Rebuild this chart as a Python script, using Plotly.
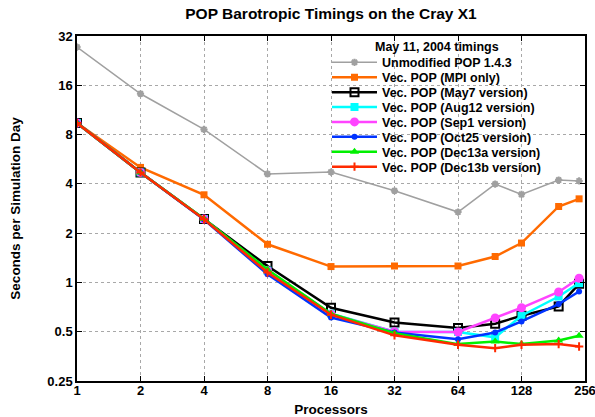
import plotly.graph_objects as go

procs = [1, 2, 4, 8, 16, 32, 64, 96, 128, 192, 240]

unmodified = [27.4, 14.2, 8.6, 4.6, 4.72, 3.63, 2.69, 3.99, 3.45, 4.22, 4.17]
mpi_only   = [9.4, 5.04, 3.43, 1.71, 1.25, 1.26, 1.26, 1.44, 1.74, 2.91, 3.24]
may7       = [9.4, 4.7, 2.44, 1.26, 0.70, 0.57, 0.527, 0.56, 0.626, 0.714, 0.98]
aug12      = [9.4, 4.7, 2.44, 1.18, 0.644, 0.50, 0.498, 0.462, 0.626, 0.82, 0.99]
sep1       = [9.4, 4.7, 2.44, 1.18, 0.64, 0.50, 0.498, 0.607, 0.70, 0.874, 1.06]
oct25      = [9.4, 4.7, 2.42, 1.12, 0.61, 0.495, 0.45, 0.495, 0.578, 0.738, 0.88]
dec13a     = [9.4, 4.7, 2.45, 1.20, 0.644, 0.49, 0.42, 0.436, 0.42, 0.442, 0.473]
dec13b     = [9.4, 4.7, 2.43, 1.15, 0.635, 0.475, 0.416, 0.397, 0.416, 0.42, 0.406]

names = ["Unmodified POP 1.4.3", "Vec. POP (MPI only)", "Vec. POP (May7 version)",
         "Vec. POP (Aug12 version)", "Vec. POP (Sep1 version)", "Vec. POP (Oct25 version)",
         "Vec. POP (Dec13a version)", "Vec. POP (Dec13b version)"]
series = [unmodified, mpi_only, may7, aug12, sep1, oct25, dec13a, dec13b]
colors = ["#a0a0a0", "#ff6a00", "#000000", "#00ffff", "#ff44ff", "#0033ff", "#00f000", "#ff2a00"]
symbols = ["asterisk-open", "square", "square-open", "square", "circle", "circle", "triangle-up", "cross-thin-open"]
msizes = [6, 7, 8, 8, 9, 6, 8, 6]
lwidths = [1.5, 2.5, 2.5, 2.5, 2.5, 2.5, 2.5, 2.5]

legend_title = "May 11, 2004 timings"
chart_title = "POP Barotropic Timings on the Cray X1"
xticks = [1, 2, 4, 8, 16, 32, 64, 128, 256]
yticks = [0.25, 0.5, 1, 2, 4, 8, 16, 32]
ytext = ["0.25", "0.5", "1", "2", "4", "8", "16", "32"]

font = "Liberation Sans, Arial, Helvetica, sans-serif"

# The page body margin is removed (post_script), so the figure fills the window.
W, H = 595, 417
# plot area in window pixels: x 77..585, y 36..381
ML, MR, MT, MB = 77, 10, 36, H - 381
PW, PH = W - ML - MR, H - MT - MB


def px_x(xw):
    return (xw - ML) / PW


def px_y(yw):
    return (H - MB - yw) / PH


row_px = [62.7 + 14.9 * i for i in range(len(names))]
legend_left_px = 327

fig = go.Figure()
for i, (name, ys, c, s, ms, lw) in enumerate(zip(names, series, colors, symbols, msizes, lwidths)):
    mline = dict(color=c, width=2 if s.endswith("open") else 0)
    fig.add_trace(go.Scatter(
        x=procs, y=ys, name=name, mode="lines+markers",
        line=dict(color=c, width=lw),
        marker=dict(symbol=s, size=ms, color=c, line=mline),
        legend="legend" if i == 0 else f"legend{i + 1}",
    ))

axis_common = dict(
    showline=True, linecolor="black", linewidth=1.5, mirror="allticks",
    ticks="inside", ticklen=5, tickcolor="black", tickwidth=1,
    showgrid=True, gridcolor="#a8a8a8", griddash="dot", gridwidth=1,
    zeroline=False, automargin=False, ticklabeloverflow="allow",
    tickfont=dict(family=font, size=13, color="black", weight="bold"),
)

legends = {}
for i, r in enumerate(row_px):
    key = "legend" if i == 0 else f"legend{i + 1}"
    legends[key] = dict(
        x=px_x(legend_left_px), y=px_y(r),
        xanchor="left", yanchor="middle",
        bgcolor="rgba(0,0,0,0)", borderwidth=0, itemwidth=45,
        font=dict(family=font, size=12.5, color="black", weight="bold"),
    )

fig.update_layout(
    width=W, height=H,
    margin=dict(l=ML, r=MR, t=MT, b=MB, autoexpand=False),
    paper_bgcolor="white", plot_bgcolor="white",
    title=dict(text=chart_title, x=0.5, xref="paper", xanchor="center",
               y=1 - 14 / H, yanchor="middle",
               font=dict(family=font, size=15.5, color="black", weight="bold")),
    xaxis=dict(type="log", range=[0, 2.40824], tickvals=xticks,
               ticktext=[str(v) for v in xticks], ticklabelstandoff=-3,
               title=dict(text="Processors", standoff=10,
                          font=dict(family=font, size=13.5, color="black", weight="bold")),
               **axis_common),
    yaxis=dict(type="log", range=[-0.60206, 1.50515], tickvals=yticks, ticktext=ytext,
               title=dict(text="Seconds per Simulation Day", standoff=24,
                          font=dict(family=font, size=13.5, color="black", weight="bold")),
               **axis_common),
    showlegend=True,
    annotations=[dict(text=legend_title, xref="paper", yref="paper",
                      x=px_x(437), y=px_y(47.3),
                      xanchor="center", yanchor="middle", showarrow=False,
                      font=dict(family=font, size=12.5, color="black", weight="bold"))],
    shapes=[dict(type="rect", xref="paper", yref="paper", layer="between",
                 x0=px_x(322), x1=1, y0=px_y(172), y1=1,
                 fillcolor="white", line=dict(width=0))],
    **legends,
)

fig.write_html("out.html", config={"displayModeBar": False},
               post_script="document.body.style.margin='0px';")
